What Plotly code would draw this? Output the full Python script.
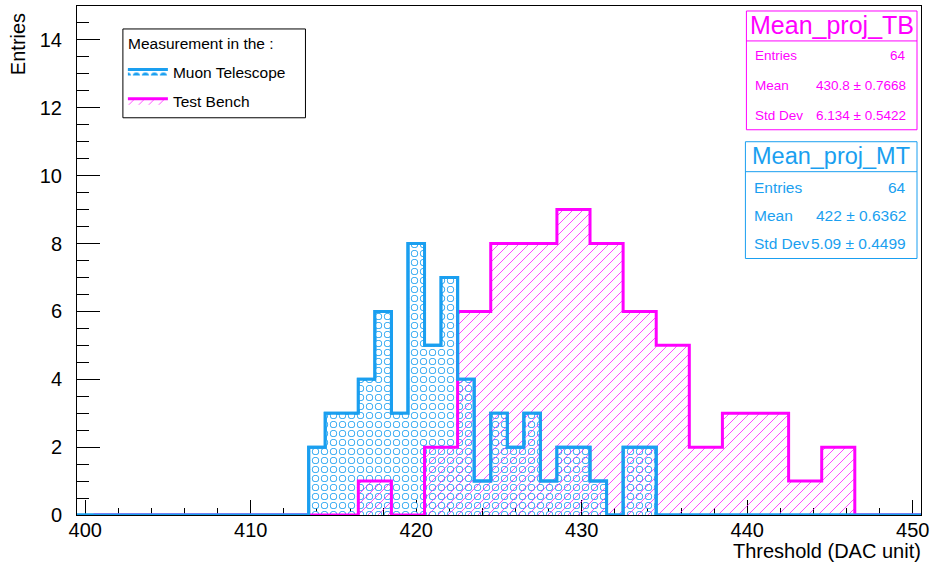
import numpy as np
import plotly.graph_objects as go

# ---------------- data ----------------
x_title = "Threshold (DAC unit)"
y_title = "Entries"
legend_title = "Measurement in the :"

mt_name = "Muon Telescope"
mt_first_edge = 399.5
mt_bin_width = 1.0
mt_counts = [0, 0, 0, 0, 0, 0, 0, 0, 0, 0, 0, 0, 0, 0,
             2, 3, 3, 4, 6, 3, 8, 5, 7, 4, 1, 3, 2, 3, 1, 2, 2, 1, 0, 2, 2,
             0, 0, 0, 0, 0, 0, 0, 0, 0, 0, 0, 0, 0, 0, 0, 0]

tb_name = "Test Bench"
tb_first_edge = 400.5
tb_bin_width = 2.0
tb_counts = [0, 0, 0, 0, 0, 0, 0, 0,
             1, 0, 2, 6, 8, 8, 9, 8, 6, 5, 2, 3, 3, 1, 2,
             0, 0]

tb_stat_title = "Mean_proj_TB"
tb_stat_labels = ["Entries", "Mean", "Std Dev"]
tb_stat_values = ["64", "430.8 ± 0.7668", "6.134 ± 0.5422"]

mt_stat_title = "Mean_proj_MT"
mt_stat_labels = ["Entries", "Mean", "Std Dev"]
mt_stat_values = ["64", "422 ± 0.6362", "5.09 ± 0.4499"]

# ---------------- style ----------------
FONT = "Liberation Sans, Arial, Helvetica, sans-serif"
BLUE = "rgb(26,159,240)"
BLUE_T = "rgba(26,159,240,0)"
MAG = "rgb(255,0,255)"
MAG_T = "rgba(255,0,255,0)"
WHITE = "rgb(255,255,255)"
WHITE_T = "rgba(255,255,255,0)"
W, H = 934, 565
L, R, T, B = 77, 11, 5, 50
PW, PH = W - L - R, H - T - B


def px(x):
    return (x - L) / PW


def py(y):
    return (H - B - y) / PH


def steps(first_edge, width, counts):
    edges = first_edge + width * np.arange(len(counts) + 1)
    return edges, list(counts) + [counts[-1]]


mt_x, mt_y = steps(mt_first_edge, mt_bin_width, mt_counts)
tb_x, tb_y = steps(tb_first_edge, tb_bin_width, tb_counts)

fig = go.Figure()

# Muon telescope: ring pattern = blue dots with smaller white dots on top
fig.add_trace(go.Scatter(
    x=mt_x, y=mt_y, mode="lines", line=dict(shape="hv", color=BLUE, width=3),
    fill="tozeroy", fillcolor=BLUE_T,
    fillpattern=dict(shape=".", size=9, solidity=0.50, fgcolor=BLUE,
                     bgcolor=BLUE_T, fillmode="replace"),
    name=mt_name, legendgroup="mt", showlegend=True, hoverinfo="skip"))
fig.add_trace(go.Scatter(
    x=mt_x, y=mt_y, mode="lines", line=dict(shape="hv", color=WHITE, width=0),
    fill="tozeroy", fillcolor=WHITE_T,
    fillpattern=dict(shape=".", size=9, solidity=0.30, fgcolor=WHITE,
                     bgcolor=WHITE_T, fillmode="replace"),
    legendgroup="mt", showlegend=False, hoverinfo="skip"))
# Test bench: hatch
fig.add_trace(go.Scatter(
    x=tb_x, y=tb_y, mode="lines", line=dict(shape="hv", color=MAG, width=3),
    fill="tozeroy", fillcolor=MAG_T,
    fillpattern=dict(shape="/", size=7.0710678, solidity=0.10, fgcolor=MAG,
                     bgcolor=MAG_T, fillmode="replace"),
    name=tb_name, legendgroup="tb", showlegend=True, hoverinfo="skip"))
# Muon telescope outline on top
fig.add_trace(go.Scatter(
    x=mt_x, y=mt_y, mode="lines", line=dict(shape="hv", color=BLUE, width=3),
    legendgroup="mt", showlegend=False, hoverinfo="skip"))

shapes = []
annotations = []


def stat_box(x0, y0, x1, y1, ysep, color, title, tsize, labels, values, rows_y, fsize):
    shapes.append(dict(type="rect", xref="paper", yref="paper",
                       x0=px(x0), x1=px(x1), y0=py(y1), y1=py(y0),
                       line=dict(color=color, width=1), fillcolor="white", layer="above"))
    shapes.append(dict(type="line", xref="paper", yref="paper",
                       x0=px(x0), x1=px(x1), y0=py(ysep), y1=py(ysep),
                       line=dict(color=color, width=1), layer="above"))
    annotations.append(dict(xref="paper", yref="paper", x=px((x0 + x1) / 2), y=py((y0 + ysep) / 2 - 1),
                            text=title, showarrow=False, xanchor="center", yanchor="middle",
                            font=dict(family=FONT, size=tsize, color=color)))
    for lab, val, ry in zip(labels, values, rows_y):
        annotations.append(dict(xref="paper", yref="paper", x=px(x0 + 7), y=py(ry),
                                text=lab, showarrow=False, xanchor="left", yanchor="middle",
                                font=dict(family=FONT, size=fsize, color=color)))
        annotations.append(dict(xref="paper", yref="paper", x=px(x1 - 9), y=py(ry),
                                text=val, showarrow=False, xanchor="right", yanchor="middle",
                                font=dict(family=FONT, size=fsize, color=color)))


stat_box(748, 10, 919, 129, 40, MAG, tb_stat_title, 25, tb_stat_labels, tb_stat_values,
         [55, 85, 115], 13.5)
stat_box(747, 141, 919, 258, 171, BLUE, mt_stat_title, 23.5, mt_stat_labels, mt_stat_values,
         [187, 215, 243], 15.5)

# legend frame and title (entries come from the plotly legend)
shapes.append(dict(type="rect", xref="paper", yref="paper",
                   x0=px(123), x1=px(306), y0=py(117), y1=py(28),
                   line=dict(color="black", width=1), fillcolor="white", layer="above"))
annotations.append(dict(xref="paper", yref="paper", x=px(126), y=py(43), text=legend_title,
                        showarrow=False, xanchor="left", yanchor="middle",
                        font=dict(family=FONT, size=15.5, color="black")))

annotations.append(dict(xref="paper", yref="paper", x=px(925), y=py(551), text=x_title,
                        showarrow=False, xanchor="right", yanchor="middle",
                        font=dict(family=FONT, size=20, color="black")))
annotations.append(dict(xref="paper", yref="paper", x=px(18), y=py(10), text=y_title,
                        textangle=-90, showarrow=False, xanchor="center", yanchor="top",
                        font=dict(family=FONT, size=20, color="black")))

fig.update_layout(
    width=W, height=H,
    margin=dict(l=L, r=R, t=T, b=B),
    paper_bgcolor="white", plot_bgcolor="white",
    font=dict(family=FONT, size=20, color="black"),
    shapes=shapes, annotations=annotations,
    legend=dict(x=px(123), y=py(54), xanchor="left", yanchor="top",
                bgcolor="rgba(0,0,0,0)", borderwidth=0,
                font=dict(family=FONT, size=15.5, color="black"),
                itemwidth=40, traceorder="grouped", tracegroupgap=6),
    xaxis=dict(range=[399.5, 450.5], tick0=400, dtick=10, ticks="inside", ticklen=15,
               tickcolor="black", tickwidth=1, showline=True, linecolor="black", linewidth=1,
               mirror=True, showgrid=False, zeroline=False, layer="below traces",
               ticklabelstandoff=-3,
               tickfont=dict(family=FONT, size=20, color="black"),
               minor=dict(dtick=2, ticks="inside", ticklen=7, tickcolor="black", showgrid=False)),
    yaxis=dict(range=[0, 15], tick0=0, dtick=2, ticks="inside", ticklen=23,
               tickcolor="black", tickwidth=1, showline=True, linecolor="black", linewidth=1,
               mirror=True, showgrid=False, zeroline=False, layer="below traces",
               ticklabelstandoff=10,
               tickfont=dict(family=FONT, size=20, color="black"),
               minor=dict(dtick=0.5, ticks="inside", ticklen=12, tickcolor="black", showgrid=False)),
)

fig.write_html("out.html",
               config={"staticPlot": True, "displayModeBar": False},
               post_script="document.body.style.margin='0';document.body.style.overflow='hidden';")
